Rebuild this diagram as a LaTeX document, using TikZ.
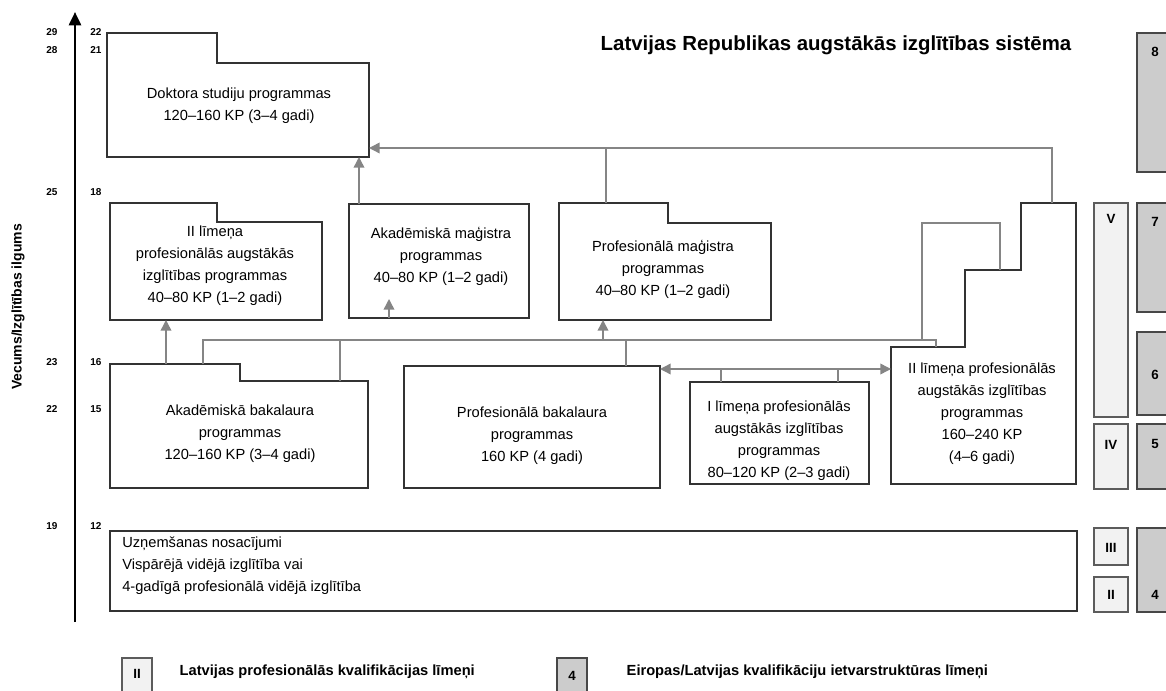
\documentclass[tikz,border=0pt]{standalone}
\usepackage{fontspec}
\setmainfont{Liberation Sans}
\usepackage{tikz}
\usetikzlibrary{arrows.meta}

\definecolor{boxline}{HTML}{333333}
\definecolor{linkgray}{HTML}{858585}
\definecolor{lvlfill}{HTML}{F2F2F2}
\definecolor{eqffill}{HTML}{CCCCCC}

\begin{document}
\begin{tikzpicture}[x = 0.75pt, y = -0.75pt,
    prog/.style = {draw = boxline, line width = 1.3pt},
    txt/.style = {align = center, inner sep = 0, font = \fontsize{11}{16.5}\selectfont},
    link/.style = {draw = linkgray, line width = 1.1pt},
    flow/.style = {link, -{Triangle[length = 8pt, width = 8pt]}},
    twoway/.style = {link, {Triangle[length = 8pt, width = 8pt]}-{Triangle[length = 8pt, width = 8pt]}},
    agelbl/.style = {font = \bfseries\fontsize{7.5}{9}\selectfont},
    lvlbox/.style = {draw = boxline!80, fill = lvlfill, line width = 1.1pt},
    eqfbox/.style = {draw = boxline!90, fill = eqffill, line width = 1.1pt},
    lvllbl/.style = {font = \bfseries\fontsize{10}{12}\selectfont},
    legtxt/.style = {anchor = west, font = \bfseries\fontsize{11}{13}\selectfont}]
    \useasboundingbox (0, 0) rectangle (1166, 691);
    \clip (0, 0) rectangle (1166, 691);

    %% axis
    \coordinate (ax0) at (75, 622);
    \coordinate (ax1) at (75, 12);
    \draw[line width = 2pt, -{Triangle[length = 10pt, width = 9pt]}] (ax0) -- (ax1);
    \node[rotate = 90, font = \bfseries\fontsize{10.5}{12}\selectfont] (axlbl) at (18, 307) {Vecums/Izglītības ilgums};
    \foreach \yy/\age/\yr in {32/29/22, 50/28/21, 192/25/18, 362/23/16, 409/22/15, 526/19/12} {
        \node[agelbl] (age\age) at (52, \yy) {\age};
        \node[agelbl] (yr\yr) at (96, \yy) {\yr};
    }

    %% title
    \node[font = \bfseries\fontsize{15.3}{18}\selectfont] (title) at (836, 45) {Latvijas Republikas augstākās izglītības sistēma};

    %% programmes
    \draw[prog] (107, 33) -- (217, 33) -- (217, 63) -- (369, 63) -- (369, 157) -- (107, 157) -- cycle;
    \node[txt] (doktora) at (239, 106) {Doktora studiju programmas\\120–160 KP (3–4 gadi)};

    \draw[prog] (110, 203) -- (217, 203) -- (217, 222) -- (322, 222) -- (322, 320) -- (110, 320) -- cycle;
    \node[txt] (limII) at (215, 266) {II līmeņa\\profesionālās augstākās\\izglītības programmas\\40–80 KP (1–2 gadi)};

    \draw[prog] (349, 204) rectangle (529, 318);
    \node[txt] (akadmag) at (441, 256) {Akadēmiskā maģistra\\programmas\\40–80 KP (1–2 gadi)};

    \draw[prog] (559, 203) -- (668, 203) -- (668, 223) -- (771, 223) -- (771, 320) -- (559, 320) -- cycle;
    \node[txt] (profmag) at (663, 269) {Profesionālā maģistra\\programmas\\40–80 KP (1–2 gadi)};

    \draw[prog] (891, 347) -- (965, 347) -- (965, 270) -- (1021, 270) -- (1021, 203) -- (1076, 203) -- (1076, 484) -- (891, 484) -- cycle;
    \node[txt] (limIIbig) at (982, 414) {II līmeņa profesionālās\\augstākās izglītības\\programmas\\160–240 KP\\(4–6 gadi)};

    \draw[prog] (110, 364) -- (240, 364) -- (240, 381) -- (368, 381) -- (368, 488) -- (110, 488) -- cycle;
    \node[txt] (akadbak) at (240, 434) {Akadēmiskā bakalaura\\programmas\\120–160 KP (3–4 gadi)};

    \draw[prog] (404, 366) rectangle (660, 488);
    \node[txt] (profbak) at (532, 436) {Profesionālā bakalaura\\programmas\\160 KP (4 gadi)};

    \draw[prog] (690, 382) rectangle (869, 484);
    \node[txt] (limI) at (779, 441) {I līmeņa profesionālās\\augstākās izglītības\\programmas\\80–120 KP (2–3 gadi)};

    \draw[prog] (110, 531) rectangle (1077, 611);
    \node[txt, align = left, anchor = west] (uznem) at (122, 566) {Uzņemšanas nosacījumi\\Vispārējā vidējā izglītība vai\\4-gadīgā profesionālā vidējā izglītība};

    %% connection points
    \coordinate (dokIn) at (369, 148);
    \coordinate (dokBot) at (359, 157);
    \coordinate (bigTop) at (1052, 203);
    \coordinate (pmTop) at (606, 203);
    \coordinate (amTop) at (359, 204);
    \coordinate (amIn0) at (389, 318);
    \coordinate (amIn1) at (389, 299);
    \coordinate (l2Bot) at (166, 320);
    \coordinate (abTop) at (166, 364);
    \coordinate (busL) at (203, 364);
    \coordinate (bus1) at (203, 340);
    \coordinate (bus2) at (936, 340);
    \coordinate (bigIn) at (936, 347);
    \coordinate (abStep) at (340, 381);
    \coordinate (pbTop) at (626, 366);
    \coordinate (pmBot) at (603, 320);
    \coordinate (loopTop) at (922, 223);
    \coordinate (bigStep) at (1000, 270);
    \coordinate (pbR) at (660, 369);
    \coordinate (bigL) at (891, 369);
    \coordinate (liTop1) at (721, 382);
    \coordinate (liTop2) at (838, 382);

    %% connectors
    \draw[flow] (bigTop) |- (dokIn);
    \draw[link] (pmTop) -- (pmTop |- dokIn);
    \draw[flow] (amTop) -- (dokBot);
    \draw[flow] (amIn0) -- (amIn1);
    \draw[flow] (abTop) -- (l2Bot);
    \draw[link] (busL) -- (bus1) -- (bus2) -- (bigIn);
    \draw[link] (abStep) -- (abStep |- bus1);
    \draw[link] (pbTop) -- (pbTop |- bus1);
    \draw[flow] (pmBot |- bus1) -- (pmBot);
    \draw[link] (loopTop |- bus1) -- (loopTop) -| (bigStep);
    \draw[twoway] (pbR) -- (bigL);
    \draw[link] (liTop1) -- (liTop1 |- pbR);
    \draw[link] (liTop2) -- (liTop2 |- pbR);

    %% qualification levels
    \foreach \nm/\ya/\yb/\ty in {V/203/417/219, IV/424/489/445, III/528/565/548, II/577/612/595} {
        \draw[lvlbox] (1094, \ya) rectangle (1128, \yb);
        \node[lvllbl] (lv\nm) at (1111, \ty) {\nm};
    }
    \foreach \nm/\ya/\yb/\ty in {8/33/172/52, 7/203/312/222, 6/332/415/375, 5/424/489/444, 4/528/612/595} {
        \draw[eqfbox] (1137, \ya) rectangle (1185, \yb);
        \node[lvllbl] (eqf\nm) at (1155, \ty) {\nm};
    }

    %% legend
    \draw[lvlbox] (122, 658) rectangle (152, 700);
    \node[lvllbl] (legII) at (137, 674) {II};
    \node[legtxt] (legIItxt) at (175, 672) {Latvijas profesionālās kvalifikācijas līmeņi};
    \draw[eqfbox] (557, 658) rectangle (587, 700);
    \node[lvllbl] (leg4) at (572, 676) {4};
    \node[legtxt] (leg4txt) at (622, 672) {Eiropas/Latvijas kvalifikāciju ietvarstruktūras līmeņi};
\end{tikzpicture}
\end{document}
